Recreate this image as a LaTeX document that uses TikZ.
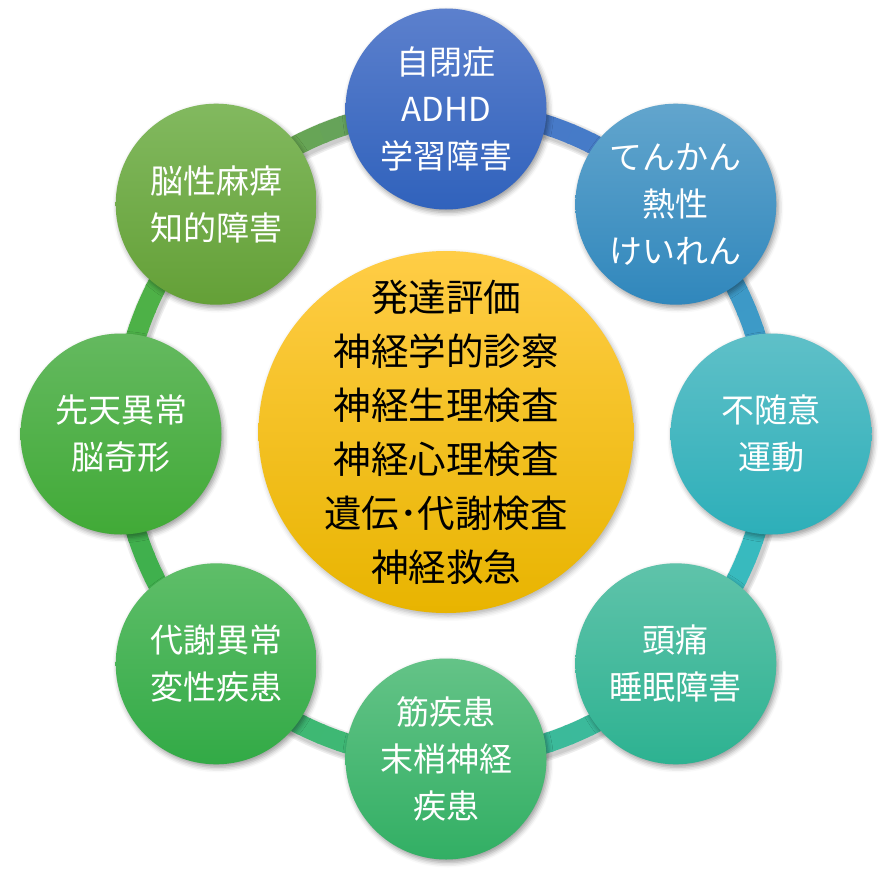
\documentclass[tikz,border=0pt]{standalone}
\usepackage{fontspec}
\setmainfont{Noto Sans CJK JP}
\usetikzlibrary{shadows.blur,shapes.geometric,calc}
\pgfdeclarelayer{bg}
\pgfsetlayers{bg,main}
% ring colours
\definecolor{r0}{RGB}{72,118,200}
\definecolor{r1}{RGB}{62,148,200}
\definecolor{r2}{RGB}{56,186,196}
\definecolor{r3}{RGB}{58,186,160}
\definecolor{r4}{RGB}{62,185,122}
\definecolor{r5}{RGB}{62,176,78}
\definecolor{r6}{RGB}{72,178,72}
\definecolor{r7}{RGB}{108,172,68}
% circle gradients
\definecolor{t0}{RGB}{92,128,205}\definecolor{b0}{RGB}{48,98,188}
\definecolor{t1}{RGB}{98,165,205}\definecolor{b1}{RGB}{48,135,188}
\definecolor{t2}{RGB}{95,192,200}\definecolor{b2}{RGB}{45,175,185}
\definecolor{t3}{RGB}{95,195,170}\definecolor{b3}{RGB}{45,178,145}
\definecolor{t4}{RGB}{100,195,135}\definecolor{b4}{RGB}{50,175,100}
\definecolor{t5}{RGB}{95,190,105}\definecolor{b5}{RGB}{50,170,70}
\definecolor{t6}{RGB}{100,185,95}\definecolor{b6}{RGB}{65,170,55}
\definecolor{t7}{RGB}{130,185,95}\definecolor{b7}{RGB}{100,160,55}
\definecolor{ctop}{RGB}{255,205,70}\definecolor{cmid}{RGB}{255,192,0}\definecolor{cbot}{RGB}{232,180,0}
\tikzset{
  outer/.style={circle, minimum size=201pt, inner sep=0pt, align=center,
    text=white, font=\fontsize{33}{47}\selectfont,
    blur shadow={shadow xshift=2pt, shadow yshift=-3pt, shadow blur radius=5pt, shadow opacity=40}},
  hub/.style={ellipse, minimum width=375pt, minimum height=362pt, inner sep=0pt,
    top color=ctop, middle color=cmid, bottom color=cbot,
    blur shadow={shadow xshift=2pt, shadow yshift=-3pt, shadow blur radius=5pt, shadow opacity=30}},
  hubtext/.style={align=center, text=black, font=\fontsize{37.5}{54}\selectfont, inner sep=0pt},
  ringseg/.style={line width=20pt},
  ringshadow/.style={line width=#1, draw=black, draw opacity=0.07}
}
\begin{document}
\begin{tikzpicture}[x=1pt,y=-1pt]
\useasboundingbox (0,0) rectangle (893,872);
\coordinate (c) at (446,434);
\coordinate (cs) at (448,437);
\node[hub] (hub) at (446,432) {};
\node[hubtext] (hubt) at (hub.center) {発達評価\\神経学的診察\\神経生理検査\\神経心理検査\\遺伝･代謝検査\\神経救急};
\node[outer, top color=t0, bottom color=b0] (n0) at ($(c)+(-90:325)$) {自閉症\\ADHD\\学習障害};
\node[outer, top color=t1, bottom color=b1] (n1) at ($(c)+(-45:325)$) {てんかん\\熱性\\けいれん};
\node[outer, top color=t2, bottom color=b2] (n2) at ($(c)+(0:325)$) {不随意\\運動};
\node[outer, top color=t3, bottom color=b3] (n3) at ($(c)+(45:325)$) {頭痛\\睡眠障害};
\node[outer, top color=t4, bottom color=b4] (n4) at ($(c)+(90:325)$) {筋疾患\\末梢神経\\疾患};
\node[outer, top color=t5, bottom color=b5] (n5) at ($(c)+(135:325)$) {代謝異常\\変性疾患};
\node[outer, top color=t6, bottom color=b6] (n6) at ($(c)+(180:325)$) {先天異常\\脳奇形};
\node[outer, top color=t7, bottom color=b7] (n7) at ($(c)+(225:325)$) {脳性麻痺\\知的障害};
\begin{pgfonlayer}{bg}
\foreach \w in {28,25,22} {
  \draw[ringshadow=\w pt] (cs) circle[radius=325];
}
\foreach \i [evaluate=\i as \j using {int(mod(\i+1,8))}] in {0,...,7} {
  \foreach \k in {0,...,11} {
    \pgfmathsetmacro{\a}{-90+45*\i+45*\k/12}
    \pgfmathsetmacro{\b}{\a+45/12+0.4}
    \pgfmathsetmacro{\m}{100-30*(\k+0.5)/12}
    \draw[ringseg, color=r\i!\m!r\j] ($(c)+(\a:325)$) arc[start angle=\a, end angle=\b, radius=325];
  }
}
\end{pgfonlayer}
\end{tikzpicture}
\end{document}
